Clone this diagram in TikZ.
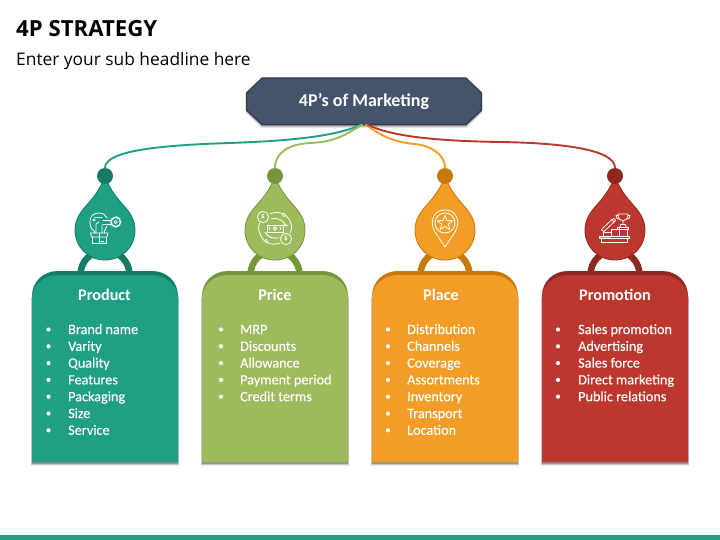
\documentclass[tikz,border=0pt]{standalone}
\usepackage{fontspec}
\setmainfont{Carlito}
\newfontfamily\headfont{Open Sans}
\newfontfamily\listfont[FakeBold=0.2]{Carlito}
\usetikzlibrary{calc}
\definecolor{cGreen}{HTML}{1FA085}\definecolor{dGreen}{HTML}{177A66}
\definecolor{cLime}{HTML}{9DBB5D}\definecolor{dLime}{HTML}{76963B}
\definecolor{cOrange}{HTML}{F39D28}\definecolor{dOrange}{HTML}{C8790E}
\definecolor{cRed}{HTML}{BC372D}\definecolor{dRed}{HTML}{8E2820}
\definecolor{cSlate}{HTML}{44546A}\definecolor{dSlate}{HTML}{2F3B4B}
\tikzset{
 x=1pt,y=-1pt,
 headtext/.style={font=\bfseries\fontsize{16.2}{18}\selectfont,text=white,anchor=base,inner sep=0},
 listtext/.style={font=\listfont\fontsize{14.2}{16}\selectfont,text=white,anchor=base west,inner sep=0},
 bulletdot/.style={circle,fill=white,inner sep=0,minimum size=4.2pt},
 knobnode/.style={circle,inner sep=0,minimum size=16pt},
 link/.style={line width=1.9pt,line cap=round},
 icon/.style={draw=white,line width=0.8pt,line join=round,line cap=round},
}
% card outline
\newcommand{\cardpath}[3]{(#1-73,462) -- (#1-73,#2+#3) .. controls (#1-73,#2+11) and (#1-62,#2) .. (#1-47,#2) -- (#1+47,#2) .. controls (#1+62,#2) and (#1+73,#2+11) .. (#1+73,#2+#3) -- (#1+73,462) -- cycle}
% ring, drop, card, knob, heading
\newcommand{\branch}[6]{%
 % #1 cx, #2 fill, #3 dark, #4 knob name, #5 heading, #6 heading x
 \foreach \o/\a/\s in {3.5/.08/.9,2.5/.15/.6,1.5/.25/.3}{
  \fill[black,opacity=\a] (#1-73-\s,297) rectangle (#1+73+\s,462+\o);}
 \draw[#3,line width=6.5pt] (#1-24.5,275) .. controls (#1-24.5,261) and (#1-14,251) .. (#1,251) .. controls (#1+14,251) and (#1+24.5,261) .. (#1+24.5,275);
 \fill[#3] \cardpath{#1}{271}{25};
 \fill[#2] \cardpath{#1}{275}{24};
 \fill[#2,draw=#3,line width=0.8pt] (#1,176) .. controls (#1+5,190) and (#1+12,198) .. (#1+20,207) .. controls (#1+26,214) and (#1+30,221) .. (#1+30,230) .. controls (#1+30,247) and (#1+17,260) .. (#1,260) .. controls (#1-17,260) and (#1-30,247) .. (#1-30,230) .. controls (#1-30,221) and (#1-26,214) .. (#1-20,207) .. controls (#1-12,198) and (#1-5,190) .. (#1,176) -- cycle;
 \node[knobnode,fill=#3] (#4) at (#1,176) {};
 \node[headtext] at (#6,300.5) {#5};
}
% bulleted list
\newcommand{\itemrow}[4]{%
 \node[bulletdot] at (#1,#3-4.5) {};
 \node[listtext] at (#2,#3) {#4};
}
\begin{document}
\begin{tikzpicture}
\useasboundingbox (0,0) rectangle (720,540);
\fill[white] (0,0) rectangle (720,540);
\fill[cGreen] (0,535) rectangle (720,540);
\node[anchor=base west,inner sep=0,font=\headfont\bfseries\fontsize{22.2}{26}\selectfont,text=black] (title) at (16,37) {4P STRATEGY};
\node[anchor=base west,inner sep=0,font=\headfont\fontsize{17.35}{20}\selectfont,text=black] (subtitle) at (16,66) {Enter your sub headline here};

\branch{105}{cGreen}{dGreen}{knobA}{Product}{104.5}
\branch{275}{cLime}{dLime}{knobB}{Price}{275}
\branch{445}{cOrange}{dOrange}{knobC}{Place}{441}
\branch{615}{cRed}{dRed}{knobD}{Promotion}{615}

% hub
\foreach \o/\a in {3/.10,2/.16,1/.24}{
 \fill[black,opacity=\a] (262,78+\o) -- (466,78+\o) -- (482,93+\o) -- (482,110+\o) -- (466,125+\o) -- (262,125+\o) -- (246,110+\o) -- (246,93+\o) -- cycle;}
\fill[cSlate,draw=dSlate,line width=1.2pt,line join=round] (262,78) -- (466,78) -- (481.5,93) -- (481.5,110) -- (466,124.5) -- (262,124.5) -- (246.5,110) -- (246.5,93) -- cycle;
\node[font=\bfseries\fontsize{18}{21}\selectfont,text=white,inner sep=0,minimum width=235pt,minimum height=46.5pt] (hub) at (364,101.3) {4P’s of Marketing};

% connectors
\draw[link,cGreen] ([xshift=-3pt]hub.south) .. controls (335,137) and (285,141) .. (230,143) .. controls (165,145) and (105,150) .. (knobA.north);
\draw[link,cLime] ([xshift=-2pt]hub.south) .. controls (345,135) and (335,142) .. (310,143) .. controls (290,144) and (275,152) .. (knobB.north);
\draw[link,cOrange] ([xshift=2pt]hub.south) .. controls (380,135) and (392,142) .. (415,144) .. controls (432,146) and (445,155) .. (knobC.north);
\draw[link,cRed] ([xshift=4pt]hub.south) .. controls (392,137) and (440,141) .. (500,142) .. controls (565,143) and (615,150) .. (knobD.north);

% lists
\foreach \t [count=\i from 0] in {Brand name,Varity,Quality,Features,Packaging,Size,Service}{
 \pgfmathsetmacro{\yy}{334+\i*16.8}\itemrow{48.5}{68}{\yy}{\t}}
\foreach \t [count=\i from 0] in {MRP,Discounts,Allowance,Payment period,Credit terms}{
 \pgfmathsetmacro{\yy}{334+\i*16.8}\itemrow{221}{240}{\yy}{\t}}
\foreach \t [count=\i from 0] in {Distribution,Channels,Coverage,Assortments,Inventory,Transport,Location}{
 \pgfmathsetmacro{\yy}{334+\i*16.8}\itemrow{388}{407}{\yy}{\t}}
\foreach \t [count=\i from 0] in {Sales promotion,Advertising,Sales force,Direct marketing,Public relations}{
 \pgfmathsetmacro{\yy}{334+\i*16.8}\itemrow{558}{578}{\yy}{\t}}

% icon: product
\begin{scope}[icon]
 \draw (94,231) .. controls (90,228) and (90,225) .. (90,221) .. controls (90,216) and (94,213) .. (99,213) .. controls (103,213) and (106,215) .. (107,218);
 \draw (107,226) .. controls (106,228) and (105,230) .. (104,232);
 \draw (94,231) -- (94,233) (104,232) -- (104,233);
 \draw (96,233) -- (96,224) -- (99,222) (102,233) -- (102,225);
 \draw[dash pattern=on 1pt off 1pt] (95,217) -- (103,217);
 \draw (94,220) circle[radius=1];
 \draw (103,220) -- (111,220) (103,224) -- (111,224) (111,220) -- (111,224);
 \draw (115.7,222) circle[radius=4.5] (115.7,222) circle[radius=1.7];
 \draw[line width=1pt,dash pattern=on 1.2pt off 1.2pt] (115.7,222) circle[radius=5.2];
 \draw (90.5,233) -- (108,233) -- (107,237) -- (91.5,237) -- cycle;
 \draw (92,237) -- (92,243.5) -- (106.5,243.5) -- (106.5,237);
 \draw (99,233) -- (99,243.5) (101,241) -- (104,241);
\end{scope}
% icon: price
\begin{scope}[icon]
 \draw (270,214) .. controls (278,210) and (287,214) .. (290,221) .. controls (293,227) and (291,231) .. (290,233);
 \draw (280,243) .. controls (272,246) and (264,243) .. (261,236) .. controls (258,230) and (258,226) .. (260,222);
 \draw (271,219) .. controls (277,217) and (284,220) .. (286,226) (279,238) .. controls (273,239) and (267,237) .. (265,232);
 \draw[fill=cLime] (263,217) circle[radius=5.6] (286,239) circle[radius=5.6];
 \node[font=\bfseries\fontsize{7}{7}\selectfont,text=white,draw=none,inner sep=0] at (263,217) {\$};
 \node[font=\bfseries\fontsize{7}{7}\selectfont,text=white,draw=none,inner sep=0] at (286,239) {\$};
 \draw (267,225) rectangle (283,232);
 \draw (275,228.5) circle[radius=1.8];
 \draw (270,227) -- (269,228.5) -- (270,230) (280,227) -- (281,228.5) -- (280,230);
 \draw[fill=cLime] (284,215) circle[radius=1.6] (266,241) circle[radius=1.6];
 \draw (286,226) -- (284.5,224.5) (286,226) -- (288,225);
\end{scope}
% icon: place
\begin{scope}[icon]
 \draw (445,247) -- (435,232) .. controls (429,222) and (433,210) .. (445,210) .. controls (457,210) and (461,222) .. (455,232) -- cycle;
 \draw (445,223) circle[radius=10];
 \draw (445,215.5) -- (447,220.5) -- (452.5,220.8) -- (448.3,224.2) -- (449.7,229.5) -- (445,226.5) -- (440.3,229.5) -- (441.7,224.2) -- (437.5,220.8) -- (443,220.5) -- cycle;
\end{scope}
% icon: promotion
\begin{scope}[icon]
 \draw (599.5,236) rectangle (629,238.5);
 \draw (601,238.5) -- (601,242.5) (627.5,238.5) -- (627.5,242.5) (601,242.5) -- (627.5,242.5);
 \fill[white,opacity=.45,draw=none] (600,236.5) rectangle (611,238);
 \draw (603,236) -- (603,232) -- (611,232) -- (611,236) (611,232) -- (611,229) -- (619,229) -- (619,236);
 \draw (619,229) -- (619,227) (617,227) rectangle (628.5,229) (627,229) -- (627,236);
 \draw (603,228) -- (601.5,230) -- (604,231.5) -- (614,222) -- (612,219.5) -- cycle;
 \draw (612,219.5) -- (614,218.5) -- (615.5,220.5) -- (614,222);
 \draw (618,214) -- (628,214) .. controls (628,219) and (626,220) .. (623,221) .. controls (620,220) and (618,219) .. (618,214) -- cycle;
 \draw (618,215.5) -- (616,215.5) -- (617,218.5) -- (619,219) (628,215.5) -- (630,215.5) -- (629,218.5) -- (627,219);
 \draw (623,221) -- (623,224.5) (620.5,224.5) -- (625.5,224.5) -- (626,227) (620.5,224.5) -- (620,227);
\end{scope}
\end{tikzpicture}
\end{document}
